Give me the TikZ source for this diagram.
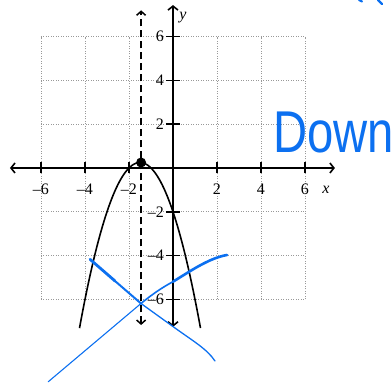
\documentclass[tikz,border=0pt]{standalone}
\usepackage{fontspec}
\setmainfont{Liberation Serif}
\newfontfamily\handfont{Liberation Sans}
\usetikzlibrary{arrows.meta}
\definecolor{ink}{RGB}{12,112,240}
\tikzset{
  axisline/.style={line width=1.6pt,{Straight Barb[length=4pt,width=10pt]}-{Straight Barb[length=4pt,width=10pt]}},
  gridline/.style={gray!80,line width=0.6pt,dash pattern=on 1pt off 1.5pt},
  tickmark/.style={line width=1.6pt},
  ticklabel/.style={font=\fontsize{16}{16}\selectfont,inner sep=0pt},
  pen/.style={ink,line cap=round,line join=round},
}
\begin{document}
\begin{tikzpicture}[x=22pt,y=21.9pt]
\useasboundingbox (-173pt,-219pt) rectangle (219pt,168pt);
% grid
\draw[gridline] (-6,-6) grid[xstep=2,ystep=2] (6,6);
% axes
\coordinate (xl) at (-7.41,0);
\coordinate (xr) at (7.36,0);
\coordinate (yb) at (0,-7.25);
\coordinate (yt) at (0,7.44);
\draw[axisline] (xl) -- (xr);
\draw[axisline] (yb) -- (yt);
% ticks and labels
\foreach \v/\t in {-6/{–6},-4/{–4},-2/{–2},2/2,4/4,6/6}{
  \draw[tickmark] (\v,0) ++(0,-5.5pt) -- ++(0,11pt);
  \node[ticklabel] (xlab\v) at (\v,-21.7pt) {\t};
  \draw[tickmark] (0,\v) ++(-7pt,0) -- ++(14pt,0);
  \node[ticklabel,anchor=east] (ylab\v) at (-9pt,\v) {\t};
}
\node[ticklabel,font=\fontsize{16}{16}\selectfont\itshape] (xname) at (153pt,-21.5pt) {x};
\node[ticklabel,font=\fontsize{16}{16}\selectfont\itshape] (yname) at (10pt,150pt) {y};
% axis of symmetry
\coordinate (st) at (-1.45,7.2);
\coordinate (sb) at (-1.45,-7.17);
\draw[line width=1.5pt,dash pattern=on 7pt off 4pt,{Straight Barb[length=4pt,width=9pt]}-{Straight Barb[length=4pt,width=9pt]}] (sb) -- (st);
% parabola
\draw[line width=1.6pt,domain=-4.25:1.25,samples=80] plot (\x,{-(\x+1.5)*(\x+1.5)+0.25});
\node[circle,fill=black,inner sep=0pt,minimum size=10pt] (vertex) at (-1.45,0.25) {};
% handwritten strokes
\coordinate (c) at (-32pt,-135.5pt);
\draw[pen,line width=2.8pt] (-83pt,-91.3pt) -- (-58pt,-113pt);
\draw[pen,line width=2pt] (-58pt,-113pt) -- (c);
\draw[pen,line width=1.3pt] (c) -- (2pt,-160pt) .. controls (20pt,-173pt) and (34pt,-181pt) .. (42pt,-193pt);
\draw[pen,line width=1.1pt] (-124.7pt,-213.7pt) -- (c);
\draw[pen,line width=1.6pt] (c) .. controls (-18pt,-124pt) and (-8pt,-118pt) .. (0pt,-113.7pt);
\draw[pen,line width=2.6pt] (0pt,-113.7pt) .. controls (16pt,-104pt) and (36pt,-90pt) .. (54pt,-87pt);
\node[anchor=base west,inner sep=0pt,text=ink,font=\handfont\fontsize{59}{59}\selectfont,xscale=0.8] (down) at (100pt,15pt) {Down};
\draw[pen,line width=2.2pt] (186pt,168pt) -- (189pt,166.5pt);
\draw[pen,line width=2.2pt] (205pt,168pt) -- (209pt,164pt);
\end{tikzpicture}
\end{document}
